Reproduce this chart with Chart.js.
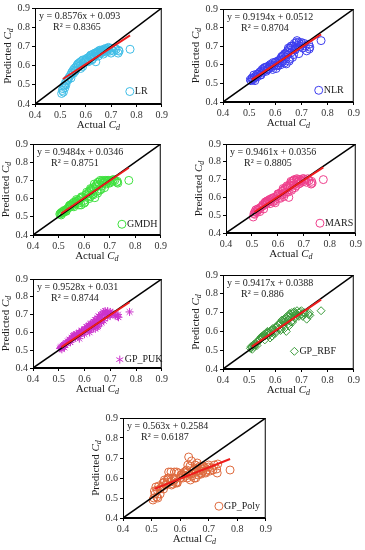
<!DOCTYPE html>
<html>
<head>
<meta charset="utf-8">
<script src="https://cdn.jsdelivr.net/npm/chart.js@4.4.0/dist/chart.umd.min.js"></script>
<style>
  body { margin: 0; background: #fff; width: 365px; height: 550px; overflow: hidden; position: relative; }
  canvas.panel { position: absolute; }
</style>
</head>
<body>
<script>
// Observed Cd (same test set for every model)
const actualCd = [
  0.505, 0.508, 0.51, 0.512, 0.515, 0.518, 0.52, 0.522, 0.525, 0.53,
  0.535, 0.54, 0.542, 0.545, 0.55, 0.552, 0.555, 0.558, 0.56, 0.565,
  0.568, 0.57, 0.575, 0.578, 0.58, 0.585, 0.588, 0.59, 0.595, 0.60,
  0.603, 0.607, 0.61, 0.615, 0.618, 0.62, 0.623, 0.627, 0.63, 0.633,
  0.636, 0.64, 0.642, 0.645, 0.648, 0.65, 0.653, 0.656, 0.66, 0.663,
  0.666, 0.67, 0.673, 0.676, 0.68, 0.683, 0.686, 0.69, 0.695, 0.70,
  0.705, 0.71, 0.715, 0.72, 0.728, 0.73, 0.732, 0.775,
  0.53, 0.545, 0.56, 0.57, 0.58, 0.59, 0.60, 0.61, 0.62, 0.625,
  0.635, 0.64, 0.65, 0.655, 0.66, 0.67, 0.675, 0.68, 0.69, 0.70
];

// Predicted Cd per model
const predLR = [
  0.455, 0.47, 0.48, 0.462, 0.495, 0.485, 0.51, 0.50, 0.52, 0.53,
  0.54, 0.55, 0.535, 0.565, 0.575, 0.56, 0.585, 0.57, 0.59, 0.60,
  0.605, 0.61, 0.615, 0.60, 0.62, 0.625, 0.595, 0.63, 0.625, 0.62,
  0.635, 0.64, 0.625, 0.645, 0.65, 0.64, 0.655, 0.635, 0.66, 0.65,
  0.665, 0.62, 0.66, 0.67, 0.665, 0.675, 0.66, 0.67, 0.68, 0.675,
  0.67, 0.685, 0.68, 0.675, 0.69, 0.685, 0.68, 0.69, 0.675, 0.665,
  0.68, 0.675, 0.69, 0.685, 0.665, 0.68, 0.675, 0.685,
  0.525, 0.56, 0.575, 0.595, 0.585, 0.61, 0.63, 0.62, 0.655, 0.63,
  0.645, 0.665, 0.65, 0.68, 0.665, 0.66, 0.68, 0.67, 0.695, 0.69
];
const predNLR = [
  0.52, 0.515, 0.525, 0.53, 0.52, 0.545, 0.53, 0.515, 0.54, 0.535,
  0.55, 0.56, 0.545, 0.565, 0.575, 0.56, 0.58, 0.57, 0.585, 0.565,
  0.59, 0.575, 0.58, 0.595, 0.59, 0.585, 0.60, 0.61, 0.595, 0.61,
  0.58, 0.60, 0.62, 0.625, 0.61, 0.63, 0.64, 0.615, 0.65, 0.63,
  0.66, 0.64, 0.605, 0.67, 0.655, 0.68, 0.62, 0.69, 0.665, 0.70,
  0.64, 0.70, 0.715, 0.68, 0.72, 0.73, 0.705, 0.72, 0.70, 0.71,
  0.69, 0.715, 0.70, 0.675, 0.71, 0.685, 0.695, 0.73,
  0.55, 0.545, 0.585, 0.575, 0.60, 0.575, 0.615, 0.595, 0.60, 0.645,
  0.61, 0.66, 0.69, 0.63, 0.70, 0.655, 0.685, 0.695, 0.66, 0.72
];
const predGMDH = [
  0.515, 0.52, 0.51, 0.525, 0.52, 0.53, 0.525, 0.535, 0.53, 0.54,
  0.545, 0.55, 0.56, 0.555, 0.565, 0.57, 0.56, 0.575, 0.58, 0.57,
  0.585, 0.58, 0.59, 0.575, 0.59, 0.60, 0.565, 0.61, 0.605, 0.59,
  0.58, 0.62, 0.625, 0.615, 0.63, 0.64, 0.61, 0.65, 0.645, 0.625,
  0.66, 0.65, 0.605, 0.67, 0.665, 0.68, 0.63, 0.69, 0.675, 0.70,
  0.65, 0.695, 0.70, 0.685, 0.69, 0.70, 0.68, 0.695, 0.70, 0.69,
  0.70, 0.695, 0.705, 0.70, 0.69, 0.695, 0.685, 0.70,
  0.53, 0.565, 0.555, 0.595, 0.565, 0.605, 0.575, 0.635, 0.60, 0.655,
  0.62, 0.68, 0.64, 0.69, 0.645, 0.67, 0.69, 0.66, 0.70, 0.685
];
const predMARS = [
  0.49, 0.51, 0.505, 0.52, 0.53, 0.515, 0.525, 0.535, 0.53, 0.52,
  0.545, 0.55, 0.56, 0.555, 0.57, 0.575, 0.565, 0.58, 0.57, 0.585,
  0.58, 0.59, 0.585, 0.595, 0.575, 0.60, 0.58, 0.59, 0.605, 0.61,
  0.62, 0.60, 0.625, 0.615, 0.635, 0.64, 0.605, 0.65, 0.645, 0.63,
  0.66, 0.655, 0.60, 0.67, 0.665, 0.68, 0.64, 0.69, 0.67, 0.70,
  0.655, 0.695, 0.705, 0.685, 0.69, 0.70, 0.68, 0.695, 0.705, 0.69,
  0.70, 0.685, 0.705, 0.695, 0.675, 0.69, 0.68, 0.70,
  0.54, 0.535, 0.575, 0.565, 0.595, 0.57, 0.62, 0.595, 0.65, 0.62,
  0.665, 0.63, 0.69, 0.65, 0.695, 0.665, 0.70, 0.675, 0.69, 0.705
];
const predPUK = [
  0.51, 0.515, 0.52, 0.505, 0.525, 0.52, 0.53, 0.515, 0.535, 0.54,
  0.55, 0.555, 0.56, 0.545, 0.57, 0.565, 0.58, 0.575, 0.585, 0.57,
  0.59, 0.585, 0.58, 0.595, 0.60, 0.59, 0.605, 0.61, 0.60, 0.615,
  0.62, 0.63, 0.61, 0.635, 0.64, 0.625, 0.645, 0.62, 0.65, 0.64,
  0.66, 0.64, 0.62, 0.67, 0.655, 0.68, 0.635, 0.69, 0.675, 0.70,
  0.655, 0.70, 0.715, 0.68, 0.72, 0.705, 0.71, 0.72, 0.70, 0.695,
  0.705, 0.71, 0.70, 0.695, 0.69, 0.70, 0.685, 0.715,
  0.54, 0.545, 0.58, 0.59, 0.565, 0.61, 0.59, 0.63, 0.60, 0.65,
  0.625, 0.67, 0.63, 0.69, 0.65, 0.70, 0.665, 0.71, 0.685, 0.715
];
const predRBF = [
  0.51, 0.52, 0.515, 0.505, 0.525, 0.53, 0.52, 0.535, 0.53, 0.545,
  0.55, 0.56, 0.555, 0.565, 0.575, 0.57, 0.58, 0.585, 0.575, 0.59,
  0.585, 0.595, 0.58, 0.60, 0.59, 0.605, 0.575, 0.61, 0.60, 0.62,
  0.60, 0.625, 0.635, 0.615, 0.64, 0.645, 0.61, 0.655, 0.635, 0.65,
  0.665, 0.645, 0.60, 0.67, 0.66, 0.68, 0.63, 0.69, 0.675, 0.70,
  0.65, 0.70, 0.705, 0.68, 0.695, 0.71, 0.685, 0.70, 0.705, 0.69,
  0.68, 0.70, 0.695, 0.665, 0.69, 0.70, 0.685, 0.71,
  0.525, 0.57, 0.555, 0.60, 0.565, 0.615, 0.59, 0.635, 0.605, 0.66,
  0.615, 0.675, 0.64, 0.695, 0.65, 0.70, 0.67, 0.695, 0.68, 0.71
];
const predPoly = [
  0.49, 0.50, 0.535, 0.52, 0.555, 0.505, 0.54, 0.50, 0.56, 0.545,
  0.555, 0.575, 0.545, 0.58, 0.565, 0.57, 0.59, 0.60, 0.63, 0.58,
  0.63, 0.585, 0.57, 0.60, 0.59, 0.575, 0.63, 0.58, 0.625, 0.60,
  0.615, 0.62, 0.60, 0.63, 0.625, 0.61, 0.64, 0.665, 0.705, 0.62,
  0.59, 0.685, 0.61, 0.625, 0.64, 0.60, 0.665, 0.63, 0.65, 0.615,
  0.64, 0.66, 0.625, 0.645, 0.635, 0.655, 0.65, 0.625, 0.64, 0.665,
  0.635, 0.65, 0.64, 0.665, 0.645, 0.625, 0.67, 0.64,
  0.52, 0.59, 0.60, 0.565, 0.63, 0.575, 0.60, 0.615, 0.635, 0.60,
  0.66, 0.62, 0.645, 0.60, 0.675, 0.635, 0.62, 0.66, 0.63, 0.655
];

const models = ['LR', 'NLR', 'GMDH', 'MARS', 'GP_PUK', 'GP_RBF', 'GP_Poly'];
const predictions = [predLR, predNLR, predGMDH, predMARS, predPUK, predRBF, predPoly];
const slopes = [0.8576, 0.9194, 0.9484, 0.9461, 0.9528, 0.9417, 0.563];
const intercepts = [0.093, 0.0512, 0.0346, 0.0356, 0.031, 0.0388, 0.2584];
const r2Values = ['0.8365', '0.8704', '0.8751', '0.8805', '0.8744', '0.886', '0.6187'];
const axisRange = [0.4, 0.9];
const trendRange = [0.51, 0.775];

// layout: plot rectangle [left, top, right, bottom] on the page, marker look, legend spot
const panels = [
  { rect: [35, 6, 162, 104], color: '#3fbde6', style: 'circle', legendAt: [0.774, 0.465] },
  { rect: [223, 7, 354, 102], color: '#3c3cee', style: 'circle', legendAt: [0.766, 0.463] },
  { rect: [33, 142, 161, 235], color: '#3ee03e', style: 'circle', legendAt: [0.748, 0.459] },
  { rect: [226, 142, 356, 233], color: '#ee3f8c', style: 'circle', legendAt: [0.762, 0.455] },
  { rect: [33, 277, 162, 368], color: '#cc33cc', style: 'star', legendAt: [0.737, 0.447] },
  { rect: [223, 273, 354, 369], color: '#3b9b3b', style: 'rectRot', legendAt: [0.673, 0.494] },
  { rect: [123, 416, 266, 518], color: '#de6a3e', style: 'circle', legendAt: [0.736, 0.459] }
];

const serif = '"Liberation Serif", "Times New Roman", serif';
const Y_AXIS_W = 34, X_AXIS_H = 30, PAD_TOP = 6, PAD_RIGHT = 8;
const MARK_R = 4;

function drawMarker(ctx, style, x, y, r, color) {
  ctx.save();
  ctx.strokeStyle = color;
  ctx.lineWidth = 1;
  ctx.beginPath();
  if (style === 'rectRot') {
    ctx.moveTo(x, y - r); ctx.lineTo(x + r, y); ctx.lineTo(x, y + r); ctx.lineTo(x - r, y); ctx.closePath();
  } else if (style === 'star') {
    ctx.moveTo(x, y - r); ctx.lineTo(x, y + r);
    ctx.moveTo(x - r * 0.87, y - r / 2); ctx.lineTo(x + r * 0.87, y + r / 2);
    ctx.moveTo(x - r * 0.87, y + r / 2); ctx.lineTo(x + r * 0.87, y - r / 2);
  } else {
    ctx.arc(x, y, r, 0, Math.PI * 2);
  }
  ctx.stroke();
  ctx.restore();
}

// "Actual Cd" with italic C and subscript d, centred on cx
function drawCdTitle(ctx, word, cx, cy) {
  const f1 = '11px ' + serif, f2 = 'italic 11px ' + serif, f3 = 'italic 8px ' + serif;
  ctx.font = f1; const w1 = ctx.measureText(word).width;
  ctx.font = f2; const w2 = ctx.measureText('C').width;
  ctx.font = f3; const w3 = ctx.measureText('d').width;
  let x = cx - (w1 + w2 + w3) / 2;
  ctx.textAlign = 'left';
  ctx.textBaseline = 'middle';
  ctx.font = f1; ctx.fillText(word, x, cy); x += w1;
  ctx.font = f2; ctx.fillText('C', x, cy); x += w2;
  ctx.font = f3; ctx.fillText('d', x, cy + 3);
}

const panelText = {
  id: 'panelText',
  afterDatasetsDraw(chart, args, opts) {
    const ctx = chart.ctx;
    const a = chart.chartArea;
    ctx.save();
    ctx.strokeStyle = '#000';
    ctx.lineWidth = 1;
    ctx.strokeRect(a.left + 0.5, a.top + 0.5, a.right - a.left - 1, a.bottom - a.top - 1);

    ctx.fillStyle = '#1a1a1a';
    ctx.font = '10px ' + serif;
    ctx.textAlign = 'left';
    ctx.textBaseline = 'middle';
    ctx.fillText(opts.equation, a.left + 4, a.top + 8);
    ctx.fillText(opts.r2, a.left + 18, a.top + 19);

    const mx = chart.scales.x.getPixelForValue(opts.legendAt[0]);
    const my = chart.scales.y.getPixelForValue(opts.legendAt[1]);
    drawMarker(ctx, opts.style, mx, my, MARK_R, opts.color);
    ctx.fillStyle = '#1a1a1a';
    ctx.font = '10px ' + serif;
    ctx.fillText(opts.label, mx + 5, my);

    drawCdTitle(ctx, 'Actual ', (a.left + a.right) / 2, a.bottom + 21);
    ctx.translate(a.left - 27, (a.top + a.bottom) / 2);
    ctx.rotate(-Math.PI / 2);
    drawCdTitle(ctx, 'Predicted ', 0, 0);
    ctx.restore();
  }
};

function axisOptions(fit) {
  return {
    type: 'linear',
    min: axisRange[0],
    max: axisRange[1],
    ticks: {
      stepSize: 0.1,
      padding: 2,
      color: '#333',
      font: { family: serif, size: 10 },
      callback: v => v.toFixed(1)
    },
    grid: { drawOnChartArea: false, drawTicks: true, tickLength: 3, color: '#000' },
    border: { display: true, color: '#000' },
    afterFit: fit
  };
}

models.forEach((name, i) => {
  const p = panels[i];
  const [L, T, R, B] = p.rect;
  const canvas = document.createElement('canvas');
  canvas.className = 'panel';
  canvas.width = R - L + Y_AXIS_W + PAD_RIGHT;
  canvas.height = B - T + PAD_TOP + X_AXIS_H;
  canvas.style.left = (L - Y_AXIS_W) + 'px';
  canvas.style.top = (T - PAD_TOP) + 'px';
  document.body.appendChild(canvas);

  const points = actualCd.map((x, j) => ({ x: x, y: predictions[i][j] }));
  const trend = trendRange.map(x => ({ x: x, y: slopes[i] * x + intercepts[i] }));
  const diagonal = axisRange.map(v => ({ x: v, y: v }));

  new Chart(canvas, {
    type: 'scatter',
    data: {
      datasets: [
        { type: 'line', data: trend, borderColor: '#ee1c1c', borderWidth: 2, pointRadius: 0, order: 0 },
        { type: 'line', data: diagonal, borderColor: '#000', borderWidth: 1.5, pointRadius: 0, order: 1 },
        {
          data: points,
          pointStyle: p.style,
          pointRadius: MARK_R,
          borderColor: p.color,
          backgroundColor: 'rgba(0,0,0,0)',
          borderWidth: 1,
          order: 2
        }
      ]
    },
    options: {
      responsive: false,
      animation: false,
      layout: { padding: { top: PAD_TOP, right: PAD_RIGHT, left: 0, bottom: 0 } },
      scales: {
        x: axisOptions(s => { s.height = X_AXIS_H; }),
        y: axisOptions(s => { s.width = Y_AXIS_W; })
      },
      plugins: {
        legend: { display: false },
        tooltip: { enabled: false },
        panelText: {
          equation: 'y = ' + slopes[i] + 'x + ' + intercepts[i],
          r2: 'R\u00b2 = ' + r2Values[i],
          label: name,
          legendAt: p.legendAt,
          style: p.style,
          color: p.color
        }
      }
    },
    plugins: [panelText]
  });
});
</script>
</body>
</html>
